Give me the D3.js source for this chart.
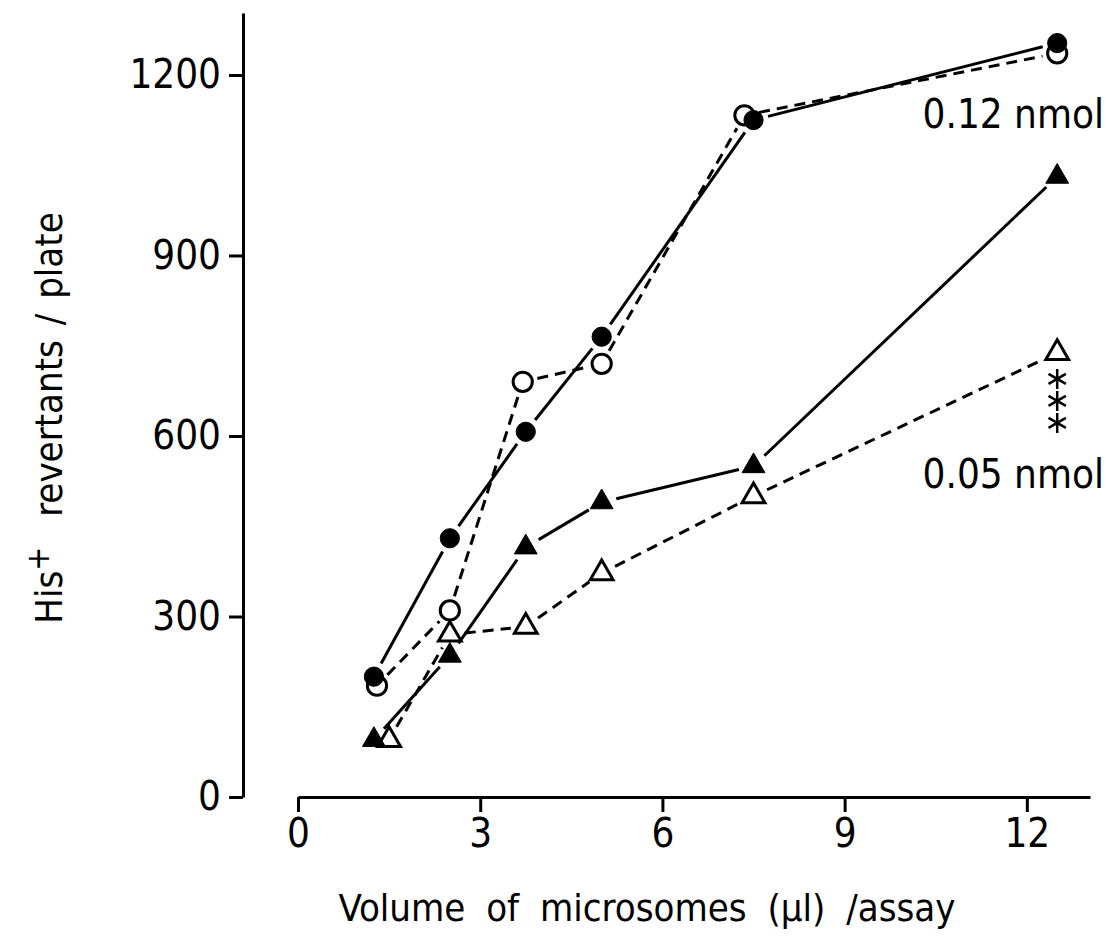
<html>
<head>
<style type="text/css">
	body { margin: 0; background: white; }
	.chart text { fill: black; font-family: "DejaVu Sans Condensed", "Liberation Sans Narrow", sans-serif; font-stretch: condensed; }
	.chart .axis path, .chart .axis line { stroke: black; stroke-width: 3; }
</style>
</head>
<body>
<svg class="chart" width=1105 height=943></svg>
<script src='https://d3js.org/d3.v7.min.js'></script>
<script>
// volume of microsomes (ul) per assay
var volumes = [1.25, 2.5, 3.75, 5, 7.5, 12.5];
// open markers were drawn slightly shifted in the original figure
var volumesOpenCircle = [1.3, 2.5, 3.7, 5, 7.35, 12.5];
var volumesOpenTriangle = [1.5, 2.5, 3.75, 5, 7.5, 12.5];

// His+ revertants / plate
var filledCircle = [200, 430, 607, 765, 1125, 1253];
var openCircle = [185, 310, 690, 720, 1133, 1236];
var filledTriangle = [95, 235, 415, 490, 550, 1031];
var openTriangle = [95, 270, 283, 372, 500, 738];

var xTicks = [0, 3, 6, 9, 12];
var yTicks = [0, 300, 600, 900, 1200];

var svg = d3.select("svg");

var xScale = d3.scaleLinear().domain([0, 13.04]).range([298, 1090]);
var yScale = d3.scaleLinear().domain([0, 1303]).range([797, 13]);

//Axes
svg.append("g")
	.attr("class", "axis")
	.attr("transform", "translate(0,797)")
	.call(d3.axisBottom(xScale).tickValues(xTicks).tickFormat(d3.format("d")).tickSize(15).tickSizeOuter(0).tickPadding(7))
	.call(g => g.selectAll("text").style("font-size", "40px").attr("font-family", null));

svg.append("g")
	.attr("class", "axis")
	.attr("transform", "translate(243,0)")
	.call(d3.axisLeft(yScale).tickValues(yTicks).tickFormat(d3.format("d")).tickSize(14).tickSizeOuter(0).tickPadding(8))
	.call(g => g.selectAll("text").style("font-size", "40px").attr("font-family", null));

//Axis labels
svg.append("text")
	.attr("x", 647)
	.attr("y", 921)
	.style("text-anchor", "middle")
	.style("font-size", "38px")
	.style("word-spacing", "10px")
	.text("Volume of microsomes (\u00b5l) /assay");

var yTitle = svg.append("text")
	.attr("transform", "translate(62,418) rotate(-90)")
	.style("text-anchor", "middle")
	.style("font-size", "38px")
	.style("word-spacing", "4px");
yTitle.append("tspan").text("His");
yTitle.append("tspan").attr("dy", -13).style("font-size", "32px").text("+");
yTitle.append("tspan").attr("dy", 13).text("\u00a0 revertants / plate");

//Lines, cut short near the markers like the original
function segments(xs, ys, gap) {
	var segs = [];
	for (var i = 0; i < xs.length - 1; i++) {
		var x1 = xScale(xs[i]), y1 = yScale(ys[i]);
		var x2 = xScale(xs[i + 1]), y2 = yScale(ys[i + 1]);
		var len = Math.hypot(x2 - x1, y2 - y1);
		var ux = (x2 - x1) / len, uy = (y2 - y1) / len;
		segs.push([x1 + ux * gap, y1 + uy * gap, x2 - ux * gap, y2 - uy * gap]);
	}
	return segs;
}

function drawLine(xs, ys, dashed) {
	svg.append("g").selectAll("line")
		.data(segments(xs, ys, 15))
		.enter()
		.append("line")
		.attr("x1", d => d[0]).attr("y1", d => d[1])
		.attr("x2", d => d[2]).attr("y2", d => d[3])
		.attr("stroke", "black")
		.attr("stroke-width", 3)
		.attr("stroke-dasharray", dashed ? "11,7" : null);
}

drawLine(volumesOpenCircle, openCircle, true);
drawLine(volumesOpenTriangle, openTriangle, true);
drawLine(volumes, filledCircle, false);
drawLine(volumes, filledTriangle, false);

//Markers
function drawMarkers(xs, ys, type, filled) {
	var sym = d3.symbol().type(type).size(type === d3.symbolTriangle ? 225 : 290);
	svg.append("g").selectAll("path")
		.data(ys)
		.enter()
		.append("path")
		.attr("d", sym)
		.attr("transform", (d, i) => "translate(" + xScale(xs[i]) + "," + yScale(d) + ")")
		.attr("fill", filled ? "black" : "white")
		.attr("stroke", "black")
		.attr("stroke-width", filled ? 1 : 3);
}

drawMarkers(volumesOpenCircle, openCircle, d3.symbolCircle, false);
drawMarkers(volumesOpenTriangle, openTriangle, d3.symbolTriangle, false);
drawMarkers(volumes, filledCircle, d3.symbolCircle, true);
drawMarkers(volumes, filledTriangle, d3.symbolTriangle, true);

//Significance asterisks under the last open triangle
function asterisk(r) {
	var t = r / 2, u = t * Math.sqrt(3);
	return "M0," + r + "L0," + (-r) + "M" + (-u) + "," + (-t) + "L" + u + "," + t + "M" + (-u) + "," + t + "L" + u + "," + (-t);
}
var last = openTriangle.length - 1;
svg.append("g").selectAll("path")
	.data([26, 48, 70])
	.enter()
	.append("path")
	.attr("d", asterisk(10))
	.attr("transform", d => "translate(" + xScale(volumes[last]) + "," + (yScale(openTriangle[last]) + d) + ")")
	.attr("stroke", "black")
	.attr("stroke-width", 2.5)
	.attr("fill", "none");

//Dose labels
svg.append("text")
	.attr("x", 1104)
	.attr("y", 128)
	.style("text-anchor", "end")
	.style("font-size", "40px")
	.text("0.12 nmol");

svg.append("text")
	.attr("x", 1104)
	.attr("y", 488)
	.style("text-anchor", "end")
	.style("font-size", "40px")
	.text("0.05 nmol");
</script>
</body>
</html>
